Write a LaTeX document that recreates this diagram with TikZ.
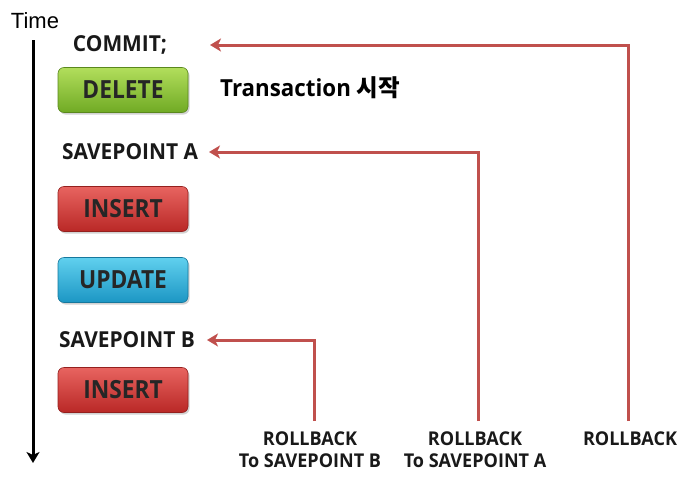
\documentclass[tikz,border=0pt]{standalone}
\usepackage{fontspec}
\setmainfont{Open Sans}[FakeStretch=0.95]
\newfontfamily\btnf{Open Sans}[FakeStretch=0.91]
\newfontfamily\krf{Noto Sans CJK KR}
\newfontfamily\arialf{Liberation Sans}
\usetikzlibrary{arrows.meta,shadows}
\definecolor{rbred}{RGB}{192,80,77}
\definecolor{gtop}{RGB}{178,222,92}
\definecolor{gbot}{RGB}{112,170,36}
\definecolor{rtop}{RGB}{232,100,96}
\definecolor{rbot}{RGB}{185,40,38}
\definecolor{btop}{RGB}{96,208,238}
\definecolor{bbot}{RGB}{28,150,196}
\tikzset{
  x=1pt,y=-1pt,
  btn/.style={rounded corners=6pt, minimum width=130pt, minimum height=45pt,
    font=\btnf\fontsize{25}{27}\selectfont\bfseries, text=black!85,
    drop shadow={shadow xshift=1.5pt,shadow yshift=-2pt,opacity=0.35}},
  greenbtn/.style={btn, top color=gtop, bottom color=gbot, draw=gbot!80!black, line width=0.6pt},
  redbtn/.style={btn, top color=rtop, bottom color=rbot, draw=rbot!80!black, line width=0.6pt},
  bluebtn/.style={btn, top color=btop, bottom color=bbot, draw=bbot!80!black, line width=0.6pt},
  lbl/.style={font=\fontsize{22}{24}\selectfont\bfseries, text=black!90, inner sep=1pt},
  rbl/.style={font=\fontsize{19}{22}\selectfont\bfseries, align=center, text=black!90, inner sep=1pt},
  rbarrow/.style={draw=rbred, line width=3pt, -{Stealth[length=11pt,width=13pt,inset=3pt]}},
  timearrow/.style={draw=black, line width=3pt, -{Stealth[length=11pt,width=13pt,inset=3pt]}}
}
\begin{document}
\begin{tikzpicture}
\useasboundingbox (0,0) rectangle (692,490);
\fill[white] (0,0) rectangle (692,490);
% time axis
\node[font=\arialf\fontsize{22}{24}\selectfont, inner sep=0pt] (time) at (35,21) {Time};
\coordinate (tstart) at (33,40);
\coordinate (tend) at (33,463);
\draw[timearrow] (tstart) -- (tend);
% statements
\node[lbl] (commit) at (120,45) {COMMIT;};
\node[greenbtn] (delete) at (123,90) {DELETE};
\node[font=\fontsize{23.5}{25}\selectfont\bfseries, anchor=west, inner sep=0pt] (trans) at (220,88) {Transaction {\krf\bfseries 시작}};
\node[lbl] (spa) at (130,152) {SAVEPOINT A};
\node[redbtn] (ins1) at (123,209) {INSERT};
\node[bluebtn] (upd) at (123,280) {UPDATE};
\node[lbl] (spb) at (127,340) {SAVEPOINT B};
\node[redbtn] (ins2) at (123,390) {INSERT};
% rollback labels
\node[rbl, anchor=north] (rbB) at (310,431) {ROLLBACK\\To SAVEPOINT B};
\node[rbl, anchor=north] (rbA) at (475,431) {ROLLBACK\\To SAVEPOINT A};
\node[rbl, anchor=north] (rb) at (630,431) {ROLLBACK};
% arrow targets
\coordinate (tC) at (210,45);
\coordinate (tA) at (209,152);
\coordinate (tB) at (207,340);
\coordinate (sB) at (314,421);
\coordinate (sA) at (478,421);
\coordinate (sR) at (628,421);
\draw[rbarrow] (sR) |- (tC);
\draw[rbarrow] (sA) |- (tA);
\draw[rbarrow] (sB) |- (tB);
\end{tikzpicture}
\end{document}
